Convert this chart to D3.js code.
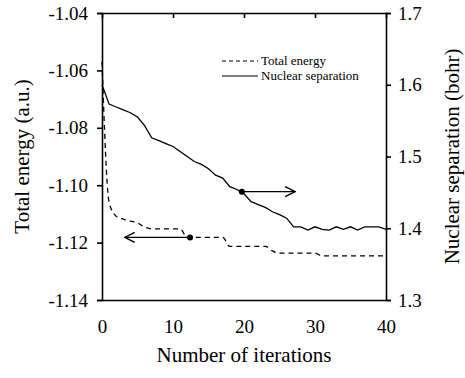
<!DOCTYPE html>
<html>
<head>
<meta charset="utf-8">
<script src="https://cdn.jsdelivr.net/npm/d3@7"></script>
<style>
  body { margin: 0; background: #fff; }
  svg text { font-family: "Liberation Serif", "Times New Roman", Times, serif; fill: #000; }
</style>
</head>
<body>
<div id="chart"></div>
<script>
// data
var iterations = d3.range(0, 41);
var totalEnergy = [
  -1.057, -1.106, -1.1108, -1.1118, -1.1125, -1.1131, -1.1146, -1.1152, -1.1152, -1.1152,
  -1.1152, -1.1152, -1.1182, -1.1182, -1.1182, -1.1182, -1.1182, -1.1182, -1.1213, -1.1213,
  -1.1213, -1.1213, -1.1213, -1.1213, -1.1229, -1.1237, -1.1237, -1.1237, -1.1237, -1.1237,
  -1.1237, -1.1246, -1.1246, -1.1246, -1.1246, -1.1246, -1.1246, -1.1246, -1.1246, -1.1246,
  -1.1246
];
var nuclearSep = [
  1.600, 1.573, 1.569, 1.565, 1.561, 1.555, 1.543, 1.526, 1.522, 1.518,
  1.514, 1.507, 1.500, 1.493, 1.489, 1.483, 1.474, 1.470, 1.458, 1.454,
  1.448, 1.437, 1.433, 1.429, 1.423, 1.419, 1.414, 1.402, 1.402, 1.3975,
  1.402, 1.3985, 1.3975, 1.402, 1.3985, 1.402, 1.3975, 1.402, 1.402, 1.402,
  1.3985
];
var xTicks = [0, 10, 20, 30, 40];
var leftTicks = [-1.14, -1.12, -1.10, -1.08, -1.06, -1.04];
var rightTicks = [1.3, 1.4, 1.5, 1.6, 1.7];
var legendLabels = ["Total energy", "Nuclear separation"];
// arrows: start point on a curve, arrow points toward its axis
var energyArrow = { x: 12.4, y: -1.1182, x2: 3.2 };
var sepArrow = { x: 19.7, y: 1.451, x2: 27.2 };

var serif = '"Liberation Serif", "Times New Roman", Times, serif';

// set the dimensions and margins of the graph
var margin = { top: 13, right: 79, bottom: 78, left: 102 },
  width = 465 - margin.left - margin.right,
  height = 378 - margin.top - margin.bottom;

var svg = d3
  .select("#chart")
  .append("svg")
  .attr("width", 465)
  .attr("height", 378)
  .append("g")
  .attr("transform", "translate(" + margin.left + "," + margin.top + ")");

svg.append("defs")
  .append("marker")
  .attr("id", "open")
  .attr("viewBox", "0 0 12 12")
  .attr("refX", 11)
  .attr("refY", 6)
  .attr("markerWidth", 12)
  .attr("markerHeight", 12)
  .attr("markerUnits", "userSpaceOnUse")
  .attr("orient", "auto")
  .append("path")
  .attr("d", "M1,1 L11,6 L1,11")
  .attr("fill", "none")
  .attr("stroke", "#000")
  .attr("stroke-width", 1.3);

var x = d3.scaleLinear().domain([0, 40]).range([0, width]);
var yL = d3.scaleLinear().domain([-1.14, -1.04]).range([height, 0]);
var yR = d3.scaleLinear().domain([1.3, 1.7]).range([height, 0]);

// plain hyphen as minus sign, like the original figure
var fmt2 = function (d) { return d.toFixed(2); };
var fmt1 = function (d) { return d.toFixed(1); };

// Draw the axis:
var axisFont = function (g) {
  g.attr("font-family", serif).attr("font-size", 19);
  g.selectAll("text").attr("fill", "#000");
  g.selectAll("line, path").attr("stroke", "#000").attr("stroke-width", 1.6);
};

svg.append("g")
  .call(d3.axisLeft(yL).tickValues(leftTicks).tickSize(5).tickPadding(9).tickFormat(fmt2))
  .call(axisFont);

svg.append("g")
  .attr("transform", "translate(" + width + ",0)")
  .call(d3.axisRight(yR).tickValues(rightTicks).tickSize(5).tickPadding(7).tickFormat(fmt1))
  .call(axisFont);

svg.append("g")
  .attr("transform", "translate(0," + height + ")")
  .call(d3.axisBottom(x).tickValues(xTicks).tickSize(0).tickPadding(20))
  .call(axisFont);

svg.append("g")
  .call(d3.axisTop(x).tickValues([10, 20, 30]).tickSize(-5).tickFormat(""))
  .call(axisFont);

// Draw the lines
var energyLine = d3.line()
  .x(function (d, i) { return x(iterations[i]); })
  .y(function (d) { return yL(d); })
  .curve(d3.curveMonotoneX);

var sepLine = d3.line()
  .x(function (d, i) { return x(iterations[i]); })
  .y(function (d) { return yR(d); });

svg.append("path")
  .datum(totalEnergy)
  .attr("d", energyLine)
  .attr("fill", "none")
  .attr("stroke", "#000")
  .attr("stroke-width", 1.3)
  .attr("stroke-dasharray", "5,4");

svg.append("path")
  .datum(nuclearSep)
  .attr("d", sepLine)
  .attr("fill", "none")
  .attr("stroke", "#000")
  .attr("stroke-width", 1.3);

// arrows pointing to the axis each curve belongs to
[[energyArrow, yL], [sepArrow, yR]].forEach(function (a) {
  var d = a[0], sc = a[1];
  svg.append("line")
    .attr("x1", x(d.x)).attr("y1", sc(d.y))
    .attr("x2", x(d.x2)).attr("y2", sc(d.y))
    .attr("stroke", "#000")
    .attr("stroke-width", 1.3)
    .attr("marker-end", "url(#open)");
  svg.append("circle")
    .attr("cx", x(d.x)).attr("cy", sc(d.y))
    .attr("r", 3);
});

// legend
var legend = svg.append("g").attr("transform", "translate(120,48)");
legendLabels.forEach(function (name, i) {
  legend.append("line")
    .attr("x1", 0).attr("x2", 36)
    .attr("y1", i * 15).attr("y2", i * 15)
    .attr("stroke", "#000")
    .attr("stroke-width", 1.2)
    .attr("stroke-dasharray", i === 0 ? "4,3" : null);
  legend.append("text")
    .attr("x", 39)
    .attr("y", i * 15)
    .attr("dy", "0.32em")
    .attr("font-family", serif)
    .attr("font-size", 13)
    .text(name);
});

// axis titles
svg.append("text")
  .attr("transform", "translate(" + (-80) + "," + height / 2 + ") rotate(-90)")
  .attr("text-anchor", "middle")
  .attr("dy", "0.32em")
  .attr("font-family", serif)
  .attr("font-size", 21)
  .text("Total energy (a.u.)");

svg.append("text")
  .attr("transform", "translate(" + (width + 66) + "," + height / 2 + ") rotate(-90)")
  .attr("text-anchor", "middle")
  .attr("dy", "0.32em")
  .attr("font-family", serif)
  .attr("font-size", 21)
  .text("Nuclear separation (bohr)");

svg.append("text")
  .attr("x", width / 2)
  .attr("y", height + 62)
  .attr("text-anchor", "middle")
  .attr("font-family", serif)
  .attr("font-size", 21)
  .text("Number of iterations");
</script>
</body>
</html>
